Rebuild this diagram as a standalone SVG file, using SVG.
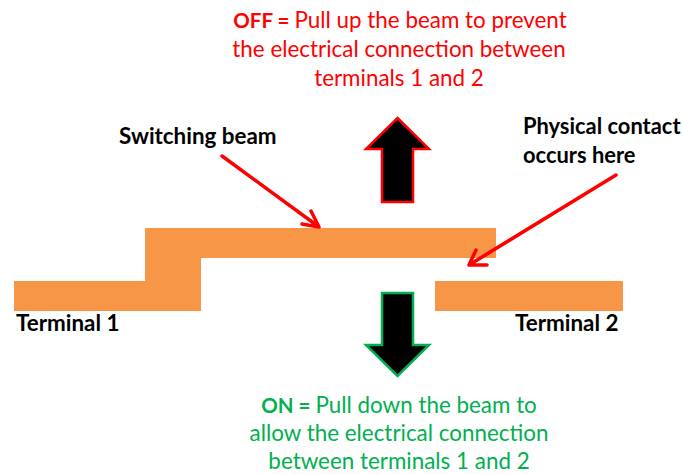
<svg xmlns="http://www.w3.org/2000/svg" width="682" height="474" viewBox="0 0 682 474">
<style>
text{font-family:"Lato","Open Sans","Liberation Sans",sans-serif;font-size:22.4px}
.b{font-weight:700;fill:#000}
.r{fill:#ff0000;text-anchor:middle}
.g{fill:#00b050;text-anchor:middle}
.s{font-weight:700;font-size:20.5px}
.beam{fill:#f79646}
.ar{stroke:#ff0000;stroke-width:3.5;fill:none;stroke-linecap:round;stroke-linejoin:round}
</style>
<rect width="682" height="474" fill="#fff"/>
<g id="beam"><path class="beam" d="M14 281H145V228H496V258H201V311H14Z"/></g>
<g id="terminal2"><rect class="beam" x="435" y="281" width="188" height="30"/></g>
<g id="up-arrow"><path d="M397.500 118L429 149H413V202H382V149H366Z" fill="#000" stroke="#ff0000" stroke-width="2.500"/></g>
<g id="down-arrow"><path d="M382 293H413V345H429L397.500 376L366 345H382Z" fill="#000" stroke="#00b050" stroke-width="2.500"/></g>
<g id="connectors"><path class="ar" d="M222 156L319 227M302 224L319 227L311 211"/><path class="ar" d="M616 175L469 265M487 265L469 265L476 250"/></g>
<g id="labels">
<text class="r" x="400" y="28"><tspan class="s">OFF = </tspan>Pull up the beam to prevent</text>
<text class="r" x="399" y="57">the electrical connection between</text>
<text class="r" x="399" y="86">terminals 1 and 2</text>
<text class="b" x="119" y="144">Switching beam</text>
<text class="b" x="523" y="134" style="font-size:21.9px">Physical contact</text>
<text class="b" x="523" y="163" style="font-size:21.9px">occurs here</text>
<text class="b" x="16" y="331">Terminal 1</text>
<text class="b" x="515" y="331">Terminal 2</text>
<text class="g" x="399" y="413"><tspan class="s">ON = </tspan>Pull down the beam to</text>
<text class="g" x="399" y="441">allow the electrical connection</text>
<text class="g" x="399" y="469">between terminals 1 and 2</text>
</g>
</svg>
